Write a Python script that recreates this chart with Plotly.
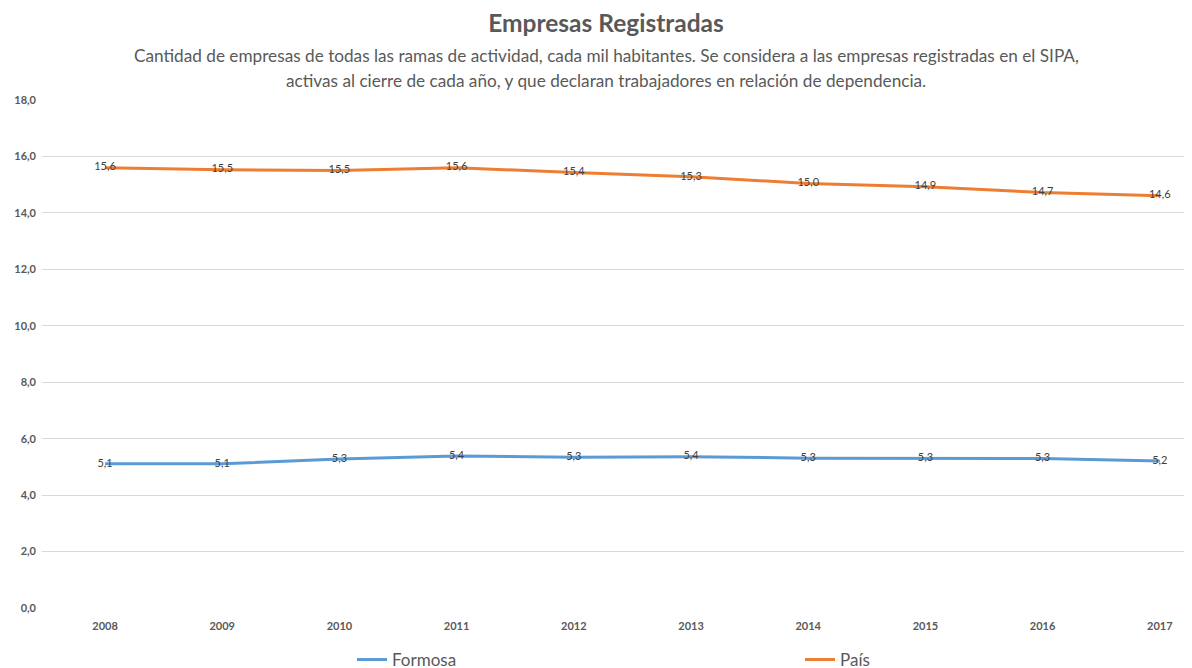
import plotly.graph_objects as go

years = ["2008", "2009", "2010", "2011", "2012", "2013", "2014", "2015", "2016", "2017"]
formosa = [5.11, 5.11, 5.28, 5.39, 5.34, 5.36, 5.31, 5.31, 5.30, 5.21]
pais = [15.60, 15.53, 15.50, 15.60, 15.43, 15.28, 15.04, 14.93, 14.72, 14.61]
y_ticks = [0, 2, 4, 6, 8, 10, 12, 14, 16, 18]

FONT = "Lato"
W, H = 1192, 668
OFF = 8  # page body margin offset
TOP, BOTTOM, LEFT = 100 - OFF, 608 - OFF, 42 - OFF
PH = BOTTOM - TOP
PW = W - LEFT


def py(pix):
    return (BOTTOM - (pix - OFF)) / PH


fig = go.Figure()
fig.add_trace(go.Scatter(
    x=years, y=formosa, name="Formosa", mode="lines+text",
    line=dict(color="#5B9BD5", width=3),
    texttemplate="%{y:.1f}", textposition="middle center",
    textfont=dict(family=FONT, size=11, color="#404040"),
    legend="legend",
))
fig.add_trace(go.Scatter(
    x=years, y=pais, name="País", mode="lines+text",
    line=dict(color="#ED7D31", width=3),
    texttemplate="%{y:.1f}", textposition="middle center",
    textfont=dict(family=FONT, size=11, color="#404040"),
    legend="legend2",
))

sub1 = "Cantidad de empresas de todas las ramas de actividad, cada mil habitantes. Se considera a las empresas registradas en el SIPA,"
sub2 = "activas al cierre de cada año, y que declaran trabajadores en relación de dependencia."
xc = (606 - OFF - LEFT) / PW

fig.update_layout(
    width=W, height=H,
    margin=dict(l=LEFT, r=0, t=TOP, b=H - BOTTOM, autoexpand=False),
    paper_bgcolor="white", plot_bgcolor="white",
    separators=",.",
    font=dict(family=FONT, color="#595959"),
    title=dict(
        text="<b>Empresas Registradas</b>",
        x=(606 - OFF) / W, xanchor="center", y=1 - (23 - OFF) / H, yanchor="middle",
        font=dict(family=FONT, size=24.5, color="#595959"),
    ),
    annotations=[
        dict(text=sub1, xref="paper", yref="paper", x=xc, y=py(56), xanchor="center",
             yanchor="middle", showarrow=False, font=dict(family=FONT, size=17.2, color="#595959")),
        dict(text=sub2, xref="paper", yref="paper", x=xc, y=py(80), xanchor="center",
             yanchor="middle", showarrow=False, font=dict(family=FONT, size=17.2, color="#595959")),
    ],
    xaxis=dict(
        type="category", range=[-0.538, 9.343], showgrid=False, zeroline=False,
        showline=False, ticks="", automargin=False, ticklabelstandoff=10,
        tickfont=dict(family=FONT, size=11, color="#595959", weight="bold"),
    ),
    yaxis=dict(
        range=[0, 18], tickvals=y_ticks, tickformat=".1f",
        showgrid=True, gridcolor="#D9D9D9", gridwidth=1, zeroline=False,
        showline=False, ticks="", automargin=False, ticklabelstandoff=5,
        tickfont=dict(family=FONT, size=11, color="#595959", weight="bold"),
    ),
    showlegend=True,
    legend=dict(
        orientation="h", xref="container", yref="container",
        x=344 / W, xanchor="left", y=(H - (660 - OFF)) / H, yanchor="middle",
        font=dict(family=FONT, size=17, color="#595959"),
    ),
    legend2=dict(
        orientation="h", xref="container", yref="container",
        x=792 / W, xanchor="left", y=(H - (660 - OFF)) / H, yanchor="middle",
        font=dict(family=FONT, size=17, color="#595959"),
    ),
)

fig.write_html("out.html")
